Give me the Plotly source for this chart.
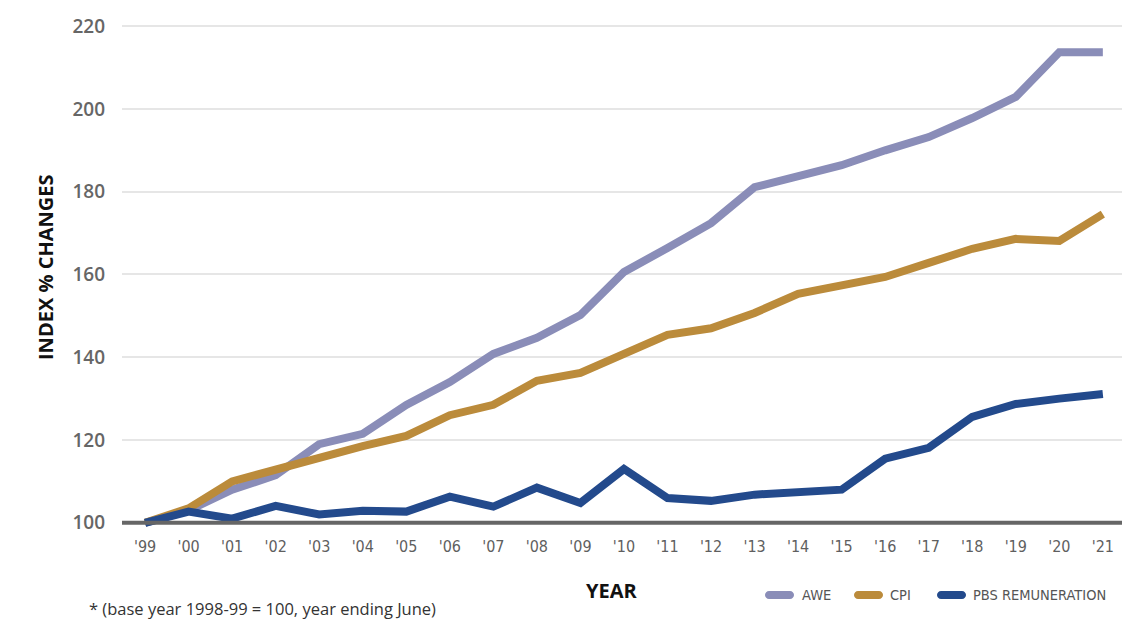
import plotly.graph_objects as go

# Financial years (year ending June), base 1998-99 = 100
years = ["'99", "'00", "'01", "'02", "'03", "'04", "'05", "'06", "'07", "'08", "'09",
         "'10", "'11", "'12", "'13", "'14", "'15", "'16", "'17", "'18", "'19", "'20", "'21"]

awe = [100, 103.0, 108.0, 111.5, 119.0, 121.5, 128.5, 134.0, 140.8, 144.7, 150.2,
       160.6, 166.4, 172.4, 181.1, 183.8, 186.4, 190.0, 193.2, 197.8, 202.9, 213.7, 213.7]
cpi = [100, 103.5, 110.0, 113.0, 116.0, 118.5, 121.0, 126.0, 128.5, 134.3, 136.2,
       140.8, 145.4, 147.0, 150.7, 155.3, 157.5, 159.4, 162.8, 166.2, 168.6, 168.1, 174.6]
pbs = [100, 102.7, 101.0, 104.1, 102.0, 102.9, 102.7, 106.3, 103.9, 108.5, 104.8,
       113.0, 106.0, 105.3, 106.8, 107.5, 108.0, 115.5, 118.1, 125.6, 128.7, 130.0, 131.1]

series_names = ["AWE", "CPI", "PBS REMUNERATION"]
series_colors = ["#8a8db8", "#bb8b3b", "#234a8c"]
y_ticks = [100, 120, 140, 160, 180, 200, 220]

x = list(range(len(years)))

fig = go.Figure()
for name, vals, col in zip(series_names, [awe, cpi, pbs], series_colors):
    fig.add_trace(go.Scatter(
        x=x, y=vals, mode="lines", name=name,
        line=dict(color=col, width=8), showlegend=False,
    ))

L, R, T, B = 122, 13, 22, 94
W, H = 1135, 623
plot_h = H - T - B

def px_x(p):
    return (p - L) / (W - L - R)

def px_y(p):
    return (H - B - p) / plot_h

narrow = "DejaVu Sans Condensed, Liberation Sans Narrow, Open Sans"

fig.update_layout(
    width=W, height=H,
    margin=dict(l=L, r=R, t=T, b=B),
    plot_bgcolor="white", paper_bgcolor="white",
    xaxis=dict(
        range=[-0.53, 22.44], tickmode="array", tickvals=x, ticktext=years,
        showgrid=False, zeroline=False, showline=False, ticks="",
        tickfont=dict(family=narrow, size=16, color="#5f5f5f"),
        ticklabelstandoff=6,
    ),
    yaxis=dict(
        range=[98.5, 221], tickmode="array", tickvals=y_ticks,
        showgrid=True, gridcolor="#e6e6e6", gridwidth=1.5, zeroline=False, showline=False,
        ticks="", tickfont=dict(family="Open Sans", size=19, color="#666666", weight=600),
        ticklabelstandoff=16,
    ),
)

# baseline at 100
fig.add_shape(type="line", xref="paper", yref="y", x0=0, x1=1, y0=100, y1=100,
              line=dict(color="#666666", width=4), layer="above")

# axis titles
fig.add_annotation(text="<b>INDEX % CHANGES</b>", xref="paper", yref="paper",
                   x=px_x(45), y=px_y(268), xanchor="center", yanchor="middle",
                   textangle=-90, showarrow=False,
                   font=dict(family="Open Sans", size=20, color="#111111"))
fig.add_annotation(text="<b>YEAR</b>", xref="paper", yref="paper",
                   x=px_x(611), y=px_y(590), xanchor="center", yanchor="middle", showarrow=False,
                   font=dict(family="Open Sans", size=20, color="#111111"))
fig.add_annotation(text="* (base year 1998-99 = 100, year ending June)", xref="paper", yref="paper",
                   x=px_x(87), y=px_y(608), xanchor="left", yanchor="middle", showarrow=False,
                   font=dict(family="Open Sans", size=16.5, color="#333333"))

# legend: rounded keys and labels
pill = ("M -10.5,-4 L 10.5,-4 C 12.7,-4 14.5,-2.2 14.5,0 C 14.5,2.2 12.7,4 10.5,4 "
        "L -10.5,4 C -12.7,4 -14.5,2.2 -14.5,0 C -14.5,-2.2 -12.7,-4 -10.5,-4 Z")
legend_keys = [(779.5, 800), (868.5, 888), (951.5, 971)]
for (kc, tx), name, col in zip(legend_keys, series_names, series_colors):
    fig.add_shape(type="path", path=pill, xref="paper", yref="paper",
                  xsizemode="pixel", ysizemode="pixel",
                  xanchor=px_x(kc), yanchor=px_y(595),
                  fillcolor=col, line=dict(width=0))
    fig.add_annotation(text=name, xref="paper", yref="paper", x=px_x(tx), y=px_y(595),
                       xanchor="left", yanchor="middle", showarrow=False,
                       font=dict(family=narrow, size=14.5, color="#555555"))

fig.write_html("out.html")
